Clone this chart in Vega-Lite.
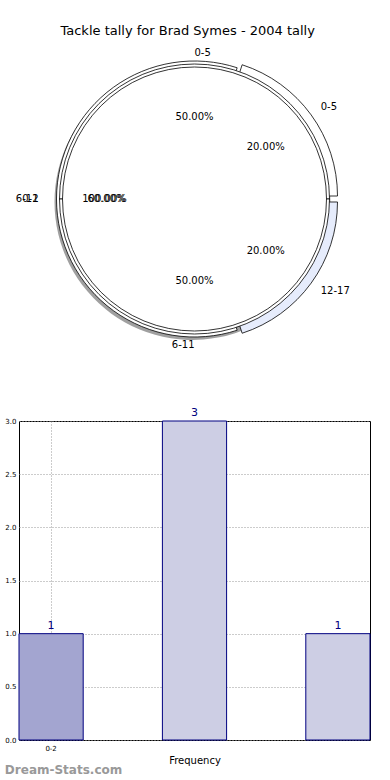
{
  "$schema": "https://vega.github.io/schema/vega-lite/v6.json",
  "padding": {"left": 4, "top": 25, "right": 0, "bottom": 0},
  "config": {"font": "DejaVu Sans", "view": {"stroke": null}},
  "title": {"text": "Tackle tally for Brad Symes - 2004 tally", "fontSize": 13, "fontWeight": "normal", "anchor": "middle", "color": "black", "offset": 10},
  "resolve": {"scale": {"color": "independent"}},
  "datasets": {
    "pies": [
      {"pie": "A", "group": "0-5", "k": 1, "count": 1, "pct": "50.00%"},
      {"pie": "A", "group": "6-11", "k": 2, "count": 1, "pct": "50.00%"},
      {"pie": "B", "group": "0-5", "k": 1, "count": 1, "pct": "20.00%"},
      {"pie": "B", "group": "6-11", "k": 2, "count": 3, "pct": "60.00%"},
      {"pie": "B", "group": "12-17", "k": 3, "count": 1, "pct": "20.00%"},
      {"pie": "C", "group": "0-2", "k": 1, "count": 1, "pct": "100.00%"}
    ],
    "bars": [
      {"range": "0-2", "frequency": 1},
      {"range": "6-11", "frequency": 3},
      {"range": "12-17", "frequency": 1}
    ]
  },
  "spacing": 56,
  "vconcat": [
    {
      "width": 351,
      "height": 290,
      "data": {"name": "pies"},
      "encoding": {
        "theta": {"field": "count", "type": "quantitative", "stack": "normalize", "scale": {"domain": [0, 1], "range": [1.5708, -4.7124]}},
        "order": {"field": "k", "type": "quantitative"}
      },
      "layer": [
        {
          "transform": [{"filter": "datum.pie == 'B'"}],
          "mark": {"type": "arc", "outerRadius": 138, "fill": "#888888", "opacity": 0.8, "xOffset": -2, "yOffset": 3},
          "encoding": {}
        },
        {
          "transform": [{"filter": "datum.pie == 'B'"}],
          "mark": {"type": "arc", "outerRadius": 138, "stroke": "black", "strokeWidth": 0.8},
          "encoding": {
            "color": {"field": "group", "type": "nominal", "scale": {"domain": ["0-5", "6-11", "12-17"], "range": ["#ffffff", "#ffffff", "#e6ecfc"]}, "legend": null},
            "opacity": {"condition": {"test": "datum.group == '6-11'", "value": 1}, "value": 0}
          }
        },
        {
          "transform": [{"filter": "datum.pie == 'B'"}],
          "mark": {"type": "arc", "outerRadius": 138, "stroke": "black", "strokeWidth": 0.8, "xOffset": 5, "yOffset": -3},
          "encoding": {
            "color": {"field": "group", "type": "nominal", "legend": null},
            "opacity": {"condition": {"test": "datum.group == '0-5'", "value": 1}, "value": 0}
          }
        },
        {
          "transform": [{"filter": "datum.pie == 'B'"}],
          "mark": {"type": "arc", "outerRadius": 138, "stroke": "black", "strokeWidth": 0.8, "xOffset": 5, "yOffset": 3},
          "encoding": {
            "color": {"field": "group", "type": "nominal", "legend": null},
            "opacity": {"condition": {"test": "datum.group == '12-17'", "value": 1}, "value": 0}
          }
        },
        {
          "transform": [{"filter": "datum.pie == 'A'"}],
          "mark": {"type": "arc", "outerRadius": 135, "fill": "white", "stroke": "black", "strokeWidth": 0.8},
          "encoding": {}
        },
        {
          "transform": [{"filter": "datum.pie == 'C'"}],
          "mark": {"type": "arc", "outerRadius": 132, "fill": "white", "stroke": "black", "strokeWidth": 0.8},
          "encoding": {}
        },
        {
          "transform": [{"filter": "datum.pie == 'A'"}],
          "mark": {"type": "text", "radius": 82, "fontSize": 10, "color": "black"},
          "encoding": {"text": {"field": "pct"}}
        },
        {
          "transform": [{"filter": "datum.pie == 'B'"}],
          "mark": {"type": "text", "radius": 88, "fontSize": 10, "color": "black"},
          "encoding": {"text": {"field": "pct"}}
        },
        {
          "transform": [{"filter": "datum.pie == 'C'"}],
          "mark": {"type": "text", "radius": 90, "fontSize": 10, "color": "black"},
          "encoding": {"text": {"field": "pct"}}
        },
        {
          "transform": [{"filter": "datum.pie == 'A'"}],
          "mark": {"type": "text", "radius": 146, "fontSize": 10, "color": "black", "align": {"expr": "datum.group == '0-5' ? 'left' : 'right'"}},
          "encoding": {"text": {"field": "group"}}
        },
        {
          "transform": [{"filter": "datum.pie == 'B'"}],
          "mark": {"type": "text", "radius": 156, "fontSize": 10, "color": "black", "align": {"expr": "datum.group == '6-11' ? 'right' : 'left'"}},
          "encoding": {"text": {"field": "group"}}
        },
        {
          "transform": [{"filter": "datum.pie == 'C'"}],
          "mark": {"type": "text", "radius": 156, "fontSize": 10, "color": "black", "align": "right"},
          "encoding": {"text": {"field": "group"}}
        }
      ]
    },
    {
      "width": 351,
      "height": 319,
      "data": {"name": "bars"},
      "view": {"stroke": "black", "strokeWidth": 1},
      "title": {"text": "Dream-Stats.com", "orient": "bottom", "anchor": "start", "frame": "bounds", "fontSize": 12, "fontWeight": "bold", "color": "#999999", "offset": 0},
      "encoding": {
        "x": {
          "field": "range", "type": "nominal", "sort": null,
          "scale": {"paddingInner": 0.5524, "paddingOuter": 0},
          "axis": {"values": ["0-2"], "bandPosition": 0.5, "labelAngle": 0, "labelFontSize": 7, "labelColor": "black", "title": "Frequency", "titleFontSize": 10, "titleFontWeight": "normal", "titleColor": "black", "titlePadding": 4, "grid": true, "gridDash": [1, 2], "gridColor": "#999999", "domain": false, "ticks": false, "labelPadding": 4}
        },
        "y": {
          "field": "frequency", "type": "quantitative",
          "scale": {"domain": [0, 3]},
          "axis": {"values": [0, 0.5, 1, 1.5, 2, 2.5, 3], "format": ".1f", "labelFontSize": 7, "labelColor": "black", "title": null, "grid": true, "gridDash": [1, 2], "gridColor": "#999999", "domain": false, "ticks": false, "labelPadding": 3}
        }
      },
      "layer": [
        {
          "mark": {"type": "bar", "stroke": "#000080", "strokeWidth": 1},
          "encoding": {
            "color": {"field": "range", "type": "nominal", "scale": {"domain": ["0-2", "6-11", "12-17"], "range": ["#a3a5d0", "#cdcee4", "#cdcee4"]}, "legend": null}
          }
        },
        {
          "mark": {"type": "text", "dy": -8, "fontSize": 11, "color": "#000080"},
          "encoding": {"text": {"field": "frequency"}}
        }
      ]
    }
  ]
}
